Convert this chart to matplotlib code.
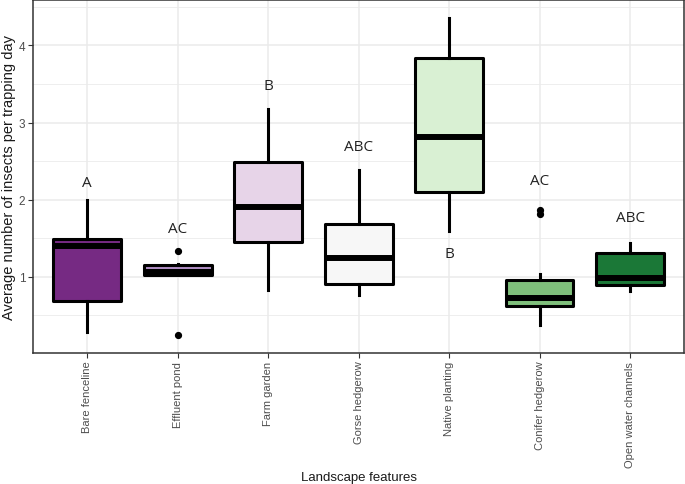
import numpy as np
import matplotlib
matplotlib.use("Agg")
import matplotlib.pyplot as plt
from matplotlib.ticker import MultipleLocator

# landscape features (x categories)
features = ["Bare fenceline", "Effluent pond", "Farm garden", "Gorse hedgerow",
            "Native planting", "Conifer hedgerow", "Open water channels"]

# box summaries
whisk_lo = [0.28, 1.02, 0.83, 0.76, 1.59, 0.37, 0.81]
q1       = [0.69, 1.02, 1.45, 0.905, 2.10, 0.62, 0.89]
med      = [1.40, 1.06, 1.91, 1.24, 2.81, 0.73, 0.99]
q3       = [1.49, 1.15, 2.49, 1.68, 3.84, 0.957, 1.31]
whisk_hi = [2.00, 1.16, 3.18, 2.39, 4.36, 1.04, 1.44]
outliers = [[], [1.33, 0.24], [], [], [], [1.86, 1.81], []]

# significance letters and their heights
letters  = ["A", "AC", "B", "ABC", "B", "AC", "ABC"]
letter_y = [2.22, 1.62, 3.48, 2.69, 1.30, 2.25, 1.77]

colors = ["#762a83", "#af8dc3", "#e7d4e8", "#f7f7f7", "#d9f0d3", "#7fbf7b", "#1b7837"]

stats = []
for i, name in enumerate(features):
    stats.append(dict(label=name, whislo=whisk_lo[i], q1=q1[i], med=med[i],
                      q3=q3[i], whishi=whisk_hi[i], fliers=outliers[i]))

fig = plt.figure(figsize=(6.85, 4.85), dpi=100)
ax = fig.add_axes([0.048, 0.27, 0.951, 0.728])

pos = np.arange(1, len(features) + 1)
bp = ax.bxp(stats, positions=pos, widths=0.75, patch_artist=True, showcaps=False,
            boxprops=dict(linewidth=2.2, edgecolor="black"),
            medianprops=dict(linewidth=4.3, color="black", solid_capstyle="butt"),
            whiskerprops=dict(linewidth=2.2, color="black"),
            flierprops=dict(marker="o", markersize=4.2, markerfacecolor="black",
                            markeredgecolor="black"),
            zorder=3)
for patch, c in zip(bp["boxes"], colors):
    patch.set_facecolor(c)
    patch.set_joinstyle("round")

for x, t, y in zip(pos, letters, letter_y):
    ax.text(x, y, t, ha="center", va="center", fontsize=11,
            family="Open Sans", color="#222222", zorder=4)

ax.set_xlim(0.4, len(features) + 0.6)
ax.set_ylim(0.01, 4.59)
ax.yaxis.set_major_locator(MultipleLocator(1))
ax.yaxis.set_minor_locator(MultipleLocator(0.5))
ax.set_yticks([1, 2, 3, 4])
ax.set_xticks(pos)
ax.set_xticklabels(features, rotation=90, fontsize=8, family="Liberation Sans",
                   color="#4d4d4d")
for lab in ax.get_yticklabels():
    lab.set_fontsize(8.5)
    lab.set_family("Liberation Sans")
    lab.set_color("#4d4d4d")

ax.grid(True, which="major", color="#ebebeb", linewidth=1.1, zorder=0)
ax.grid(True, which="minor", axis="y", color="#ebebeb", linewidth=0.6, zorder=0)
ax.set_axisbelow(True)
ax.tick_params(axis="both", which="major", length=3.5, width=0.8, color="#333333", pad=2)
ax.tick_params(axis="y", which="minor", length=0)
for s in ax.spines.values():
    s.set_color("#333333")
    s.set_linewidth(1.1)

ax.set_xlabel("Landscape features", fontsize=9.5, family="Liberation Sans",
              color="#1a1a1a", va="center")
ax.xaxis.set_label_coords(0.5, -0.352)
ax.set_ylabel("Average number of insects per trapping day", fontsize=10.5,
              family="Liberation Sans", labelpad=2, color="#1a1a1a")

fig.savefig("out.png", dpi=100)
